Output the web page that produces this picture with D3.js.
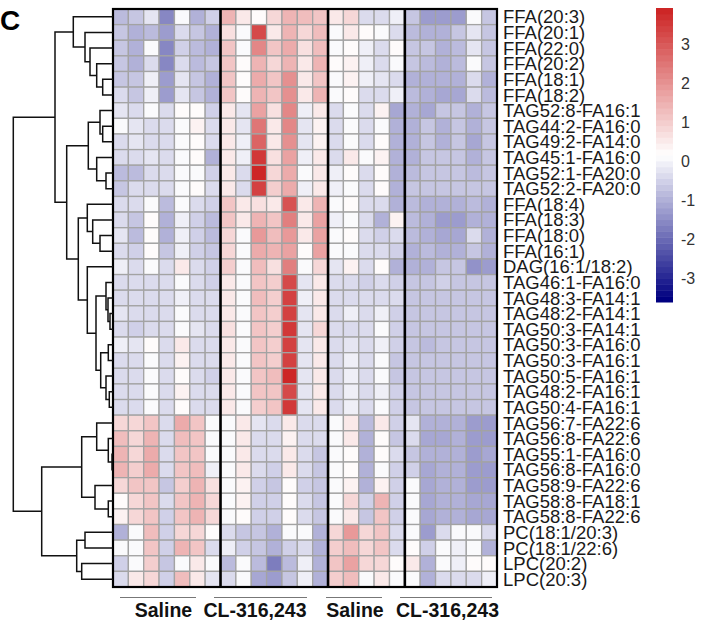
<!DOCTYPE html>
<html>
<head>
<meta charset="utf-8">
<script src="https://cdn.jsdelivr.net/npm/d3@7"></script>
<style>
  html, body { margin: 0; padding: 0; background: #fff; }
  svg { display: block; }
  text { font-family: "Liberation Sans", Arial, sans-serif; }
</style>
</head>
<body>
<svg id="chart" width="702" height="624"></svg>
<script>
// ---------------- data ----------------
const rowLabels = [
  "FFA(20:3)","FFA(20:1)","FFA(22:0)","FFA(20:2)","FFA(18:1)","FFA(18:2)",
  "TAG52:8-FA16:1","TAG44:2-FA16:0","TAG49:2-FA14:0","TAG45:1-FA16:0","TAG52:1-FA20:0","TAG52:2-FA20:0",
  "FFA(18:4)","FFA(18:3)","FFA(18:0)","FFA(16:1)","DAG(16:1/18:2)",
  "TAG46:1-FA16:0","TAG48:3-FA14:1","TAG48:2-FA14:1","TAG50:3-FA14:1","TAG50:3-FA16:0","TAG50:3-FA16:1",
  "TAG50:5-FA16:1","TAG48:2-FA16:1","TAG50:4-FA16:1",
  "TAG56:7-FA22:6","TAG56:8-FA22:6","TAG55:1-FA16:0","TAG56:8-FA16:0","TAG58:9-FA22:6","TAG58:8-FA18:1","TAG58:8-FA22:6",
  "PC(18:1/20:3)","PC(18:1/22:6)","LPC(20:2)","LPC(20:3)"
];
const groupNames = ["Saline", "CL-316,243", "Saline", "CL-316,243"];
const groupSizes = [7, 7, 5, 6];

// z-scored values, one row per lipid, 25 samples (7 + 7 + 5 + 6)
const cellValues = [
  [-0.8,-0.7,-0.2,-1.5,0.1,-0.9,-0.5, 1.5,0.6,0.3,0.8,1.5,1.3,1.2, 0.6,0.9,-0.4,-0.4,-0.1, -0.7,-1.3,-1.2,-1.2,0.1,-0.7],
  [-0.7,-0.9,-0.8,-1.3,-0.4,-0.7,-0.9, 0.7,0.1,3.3,0.6,1.5,0.9,1.3, 0.1,0.5,0.3,0.1,-0.3, -0.8,-0.9,-1.0,-0.7,-0.2,-0.7],
  [-0.6,-1.0,0.1,-1.6,-0.5,-0.8,-1.0, 1.2,0.1,2.2,1.1,1.6,0.7,1.3, 0.1,0.2,-0.1,-0.3,0.2, -0.7,-0.6,-0.9,-0.8,-0.2,-0.6],
  [-0.7,-1.0,-0.4,-1.6,-0.4,-0.8,-0.7, 1.1,0.3,1.5,0.9,1.5,0.5,1.4, 0.2,0.4,-0.1,-0.3,0.1, -0.7,-0.8,-1.0,-0.8,0.1,-0.6],
  [-0.6,-0.7,-0.1,-1.3,-0.2,-0.7,-0.9, 1.2,0.2,1.6,1.2,2.0,0.6,1.2, 0.1,0.4,-0.1,-0.2,-0.3, -0.9,-0.9,-1.0,-1.0,-0.4,-0.9],
  [-0.4,-0.7,-0.1,-1.3,-0.2,-0.7,-0.9, 1.2,0.3,1.5,1.1,2.0,0.5,1.4, 0.1,0.3,-0.3,-0.4,-0.1, -0.8,-0.9,-1.1,-1.1,-0.4,-0.8],
  [-0.2,-0.3,0.1,-0.4,0.2,0.3,-0.5, 0.6,-0.2,1.8,0.7,2.2,-0.1,0.5, -0.4,0.1,-0.3,0.4,-1.1, -1.0,-1.1,-0.6,-0.6,-1.0,-0.7],
  [0.1,-0.2,-0.4,-0.4,0.1,0.4,-0.3, 0.6,-0.2,2.5,0.6,2.2,-0.2,0.4, -0.3,0.1,-0.3,0.1,-1.0, -1.0,-0.7,-0.9,-0.6,-1.0,-0.7],
  [-0.4,-0.2,-0.4,-0.4,0.1,0.3,-0.4, 0.6,-0.1,2.8,0.6,2.1,-0.2,0.4, -0.3,0.1,-0.3,0.2,-1.0, -1.0,-0.7,-0.9,-0.7,-1.1,-0.7],
  [-0.3,-0.3,-0.2,-0.3,0.1,0.3,-0.9, 0.6,-0.1,3.5,0.7,1.7,-0.1,0.5, -0.3,0.5,0.1,0.4,-0.9, -1.0,-0.6,-0.6,-0.6,-0.9,-0.7],
  [-0.8,-0.8,-0.4,-0.4,0.1,0.1,-0.5, 0.5,-0.4,3.9,0.9,1.6,0.1,0.6, -0.1,0.2,-0.3,0.2,-0.9, -0.8,-0.7,-0.7,-0.6,-0.8,-0.7],
  [-0.7,-0.4,-0.3,-0.4,0.1,0.2,-0.4, 0.5,-0.3,3.4,1.0,1.6,-0.1,0.6, -0.1,0.1,-0.3,0.2,-0.9, -0.7,-0.7,-0.7,-0.6,-0.7,-0.7],
  [-0.3,-0.4,0.1,-0.8,0.1,-0.4,-0.5, 1.2,0.6,0.7,0.6,3.1,0.5,1.5, 0.1,0.3,-0.3,-0.4,-0.9, -0.8,-0.9,-0.9,-0.9,-0.8,-0.9],
  [-0.4,-0.7,0.2,-1.0,-0.1,-0.5,-0.8, 1.2,0.6,1.5,1.2,2.4,0.5,1.7, -0.1,0.1,-0.4,-0.9,0.4, -0.8,-1.0,-1.2,-1.2,-0.9,-1.0],
  [-0.2,-0.8,0.3,-0.9,-0.1,-0.5,-0.8, 0.8,0.1,1.9,1.3,1.9,0.5,1.8, 0.1,0.2,-0.3,-0.5,-0.4, -0.8,-0.9,-1.1,-1.1,-0.3,-0.9],
  [-0.4,-0.5,0.2,-0.7,-0.1,-0.5,-0.7, 0.9,0.1,1.6,1.5,1.7,0.2,1.8, 0.1,0.1,-0.3,-0.4,-0.5, -0.9,-0.8,-1.0,-0.9,-0.6,-0.9],
  [-0.1,-0.3,0.1,-0.4,0.5,-0.3,-0.5, 1.0,0.1,1.3,0.7,2.3,0.1,0.8, -0.2,0.4,-0.3,0.2,-1.0, -0.9,-1.0,-0.7,-0.7,-1.4,-1.3],
  [-0.3,-0.3,-0.3,-0.4,0.1,-0.4,-0.5, 0.6,0.1,1.2,1.0,3.3,-0.2,0.5, -0.3,-0.3,-0.5,-0.3,-0.5, -0.6,-0.6,-0.5,-0.6,-0.6,-0.6],
  [-0.3,-0.4,-0.3,-0.4,-0.1,-0.3,-0.4, 0.6,0.1,1.3,1.0,3.4,-0.1,0.5, -0.3,-0.3,-0.4,-0.3,-0.4, -0.6,-0.6,-0.6,-0.6,-0.6,-0.6],
  [-0.2,-0.4,-0.4,-0.4,0.1,-0.3,-0.4, 0.6,0.1,1.2,1.0,3.4,-0.2,0.6, -0.4,-0.1,-0.4,-0.1,-0.5, -0.6,-0.7,-0.6,-0.6,-0.6,-0.7],
  [-0.4,-0.5,-0.4,-0.4,0.1,-0.2,-0.4, 0.7,0.1,1.2,1.0,3.5,-0.2,0.9, -0.4,-0.3,-0.4,0.1,-0.5, -0.7,-0.7,-0.7,-0.7,-0.7,-0.7],
  [-0.1,-0.2,0.2,-0.3,0.5,-0.3,-0.4, 0.6,0.1,1.1,1.0,3.4,-0.2,0.5, -0.4,-0.2,-0.4,-0.1,-0.5, -0.7,-0.8,-0.7,-0.7,-0.7,-0.7],
  [-0.3,-0.3,0.1,-0.4,0.4,-0.3,-0.4, 0.6,0.1,1.2,1.0,3.4,-0.2,0.5, -0.4,-0.1,-0.4,0.1,-0.6, -0.7,-0.7,-0.7,-0.7,-0.7,-0.7],
  [-0.3,-0.3,0.1,-0.4,0.3,-0.3,-0.5, 0.6,0.1,1.1,1.3,3.9,-0.2,0.5, -0.4,-0.1,-0.4,0.1,-0.6, -0.7,-0.7,-0.7,-0.7,-0.7,-0.7],
  [-0.3,-0.3,0.1,-0.4,0.4,-0.3,-0.4, 0.6,0.1,1.1,1.2,3.3,-0.2,0.5, -0.4,-0.1,-0.4,-0.1,-0.5, -0.7,-0.7,-0.7,-0.7,-0.7,-0.7],
  [-0.3,-0.3,0.1,-0.4,0.3,-0.3,-0.4, 0.6,0.1,1.0,1.2,3.5,-0.2,0.5, -0.4,-0.1,-0.4,0.1,-0.5, -0.7,-0.7,-0.7,-0.7,-0.7,-0.7],
  [0.8,0.8,1.1,-0.3,1.6,1.2,0.1, 0.1,0.5,-0.2,-0.3,0.5,-0.3,-0.4, 0.1,0.5,-0.8,0.6,-0.5, -0.2,-1.0,-1.0,-0.9,-1.2,-1.2],
  [1.3,0.9,1.4,-0.4,1.3,1.2,0.1, 0.1,0.5,-0.4,-0.4,0.4,-0.3,-0.4, 0.1,0.5,-1.0,0.3,-0.6, -0.4,-1.1,-1.1,-1.0,-1.3,-1.3],
  [1.5,0.9,1.6,-0.4,1.2,1.2,0.1, 0.1,0.5,-0.4,-0.4,0.5,-0.4,-0.6, 0.1,0.3,-0.9,0.2,-0.4, -0.6,-1.0,-1.0,-1.0,-1.2,-1.1],
  [1.5,1.0,1.6,-0.4,1.2,1.3,-0.1, 0.1,0.5,-0.4,-0.5,0.5,-0.4,-0.6, 0.1,0.3,-1.0,0.1,-0.5, -0.5,-1.1,-1.0,-1.0,-1.2,-1.2],
  [0.9,1.1,1.2,-0.6,1.0,1.4,0.7, 0.1,0.4,-0.5,-0.6,0.2,-0.5,-0.7, 0.1,0.4,-0.9,0.4,-0.5, 0.1,-1.1,-1.0,-0.9,-1.2,-1.2],
  [0.3,0.9,1.2,-0.4,1.2,1.5,0.9, 0.1,0.4,-0.5,-0.5,0.3,-0.4,-0.6, 0.1,0.9,-0.5,1.5,-0.5, 0.1,-1.1,-0.9,-0.9,-1.1,-1.1],
  [0.4,0.8,1.1,-0.5,1.1,1.5,0.9, 0.1,0.3,-0.5,-0.5,0.3,-0.4,-0.6, 0.1,0.6,-0.6,1.2,-0.5, 0.1,-1.1,-0.9,-0.9,-1.1,-1.1],
  [-1.0,0.1,1.3,-0.5,0.8,0.9,0.3, -0.3,-0.7,-0.6,-1.0,0.1,0.1,-0.9, 0.8,1.9,0.9,1.2,-0.4, 0.1,-1.2,-0.3,0.1,0.1,-0.3],
  [0.1,0.1,1.2,-0.5,1.4,1.1,-0.3, -0.1,-0.5,-0.6,-0.9,-0.5,-0.3,-0.9, 1.0,1.3,0.8,1.1,-0.4, 0.2,-0.5,0.1,-0.1,0.1,-0.9],
  [-0.5,0.1,1.0,-0.6,0.1,0.5,0.1, -0.8,0.1,-0.8,-1.7,-0.8,-0.1,-0.9, 1.2,1.8,0.8,0.9,0.2, 0.6,-1.0,0.1,-0.1,0.2,0.2],
  [-0.4,0.5,0.9,-0.5,1.3,0.6,-0.2, -0.4,0.1,-1.1,-1.3,-0.6,-0.1,-0.9, 1.0,1.3,0.1,0.6,0.1, 0.1,-1.0,-0.3,-0.4,-0.3,-0.1]
];

// row dendrogram: merges (negative = leaf row index, positive = earlier merge number, 1-based) and heights
const rowMerge = [
  [-5,-6],[-4,1],[-3,2],[-2,3],[-1,4],
  [-8,-9],[-7,6],[-11,-12],[-10,8],[7,9],
  [-15,-16],[-14,11],[-13,12],
  [-20,-21],[-19,14],[-18,15],[-22,-23],[-25,-26],[-24,18],[17,19],[16,20],[-17,21],
  [13,22],[10,23],[5,24],
  [-29,-30],[-28,26],[-27,27],[-32,-33],[-31,29],[28,30],
  [-34,-35],[-36,-37],[32,33],
  [31,34],[25,35]
];
const rowMergeHeight = [
  10.3,16.3,23,28,39.7,
  10.3,13,7,16.3,24.7,
  13,20.3,25.7,
  3,5,7,4.7,3.7,7,12.3,17,25.7,
  34.7,46.3,58,
  1,4.7,16.3,4.7,18,31.3,
  28,31.3,36.3,
  71.3,99.7
];

// colour legend
const legendRange = [-3.6, 3.92];
const legendTicks = [3, 2, 1, 0, -1, -2, -3];
const paletteStops = ["#000080", "#ffffff", "#CD2626"];
const nColors = 50;

// ---------------- drawing ----------------
const svg = d3.select("#chart");
const hm = { left: 113, right: 497, top: 9, bottom: 587 };
const nCols = d3.sum(groupSizes);

const x = d3.scaleBand().domain(d3.range(nCols)).range([hm.left, hm.right]);
const y = d3.scaleBand().domain(rowLabels).range([hm.top, hm.bottom]);

const interp = d3.piecewise(d3.interpolateRgb, paletteStops);
const palette = d3.range(nColors).map(i => interp(i / (nColors - 1)));
const binScale = d3.scaleQuantize().domain(legendRange).range(palette);
const color = v => binScale(Math.max(legendRange[0], Math.min(legendRange[1] - 1e-9, v)));

// cells
const cells = [];
cellValues.forEach((row, r) => row.forEach((v, c) => cells.push({ r, c, v })));
svg.append("g").selectAll("rect").data(cells).join("rect")
  .attr("x", d => x(d.c))
  .attr("y", d => y(rowLabels[d.r]))
  .attr("width", x.bandwidth())
  .attr("height", y.bandwidth())
  .attr("fill", d => color(d.v))
  .attr("stroke", "#a3a3a3")
  .attr("stroke-width", 1.3);

// group separators + border
const bounds = d3.cumsum(groupSizes).slice(0, -1);
svg.append("g").selectAll("line").data(bounds).join("line")
  .attr("x1", d => x(d)).attr("x2", d => x(d))
  .attr("y1", hm.top).attr("y2", hm.bottom)
  .attr("stroke", "#000").attr("stroke-width", 2.6);
svg.append("rect")
  .attr("x", hm.left).attr("y", hm.top)
  .attr("width", hm.right - hm.left).attr("height", hm.bottom - hm.top)
  .attr("fill", "none").attr("stroke", "#000").attr("stroke-width", 2.2);

// row labels
svg.append("g").selectAll("text").data(rowLabels).join("text")
  .attr("x", hm.right + 6)
  .attr("y", d => y(d) + y.bandwidth() / 2 + 6.6)
  .attr("font-size", 18.5)
  .attr("fill", "#1a1a1a")
  .text(d => d);

// dendrogram
const hScale = d3.scaleLinear().domain([0, d3.max(rowMergeHeight)]).range([hm.left, 13.3]);
const nodes = [];
function nodePos(id) {
  if (id < 0) {
    const r = -id - 1;
    return { x: hm.left, y: y(rowLabels[r]) + y.bandwidth() / 2 };
  }
  return nodes[id - 1];
}
const dendroPaths = [];
rowMerge.forEach((m, i) => {
  const a = nodePos(m[0]), b = nodePos(m[1]);
  const hx = hScale(rowMergeHeight[i]);
  nodes.push({ x: hx, y: (a.y + b.y) / 2 });
  dendroPaths.push(`M${a.x},${a.y}H${hx}V${b.y}H${b.x}`);
});
svg.append("g").selectAll("path").data(dendroPaths).join("path")
  .attr("d", d => d)
  .attr("fill", "none").attr("stroke", "#111").attr("stroke-width", 1.5);

// legend
const lg = { x: 656, w: 17, top: 8, bottom: 302 };
const ly = d3.scaleLinear().domain(legendRange).range([lg.bottom, lg.top]);
const step = (legendRange[1] - legendRange[0]) / nColors;
svg.append("g").selectAll("rect").data(palette).join("rect")
  .attr("x", lg.x).attr("width", lg.w)
  .attr("y", (d, i) => ly(legendRange[0] + (i + 1) * step))
  .attr("height", (d, i) => ly(legendRange[0] + i * step) - ly(legendRange[0] + (i + 1) * step) + 0.5)
  .attr("fill", d => d);
svg.append("g").selectAll("text").data(legendTicks).join("text")
  .attr("x", 681)
  .attr("y", d => ly(d) + 5.8)
  .attr("font-size", 16)
  .attr("fill", "#333")
  .text(d => d);

// column group annotations
const groupCenters = [163.5, 255, 355, 447.5];
const groupLines = [[120, 196], [214, 307], [326, 382], [400, 492]];
svg.append("g").selectAll("line").data(groupLines).join("line")
  .attr("x1", d => d[0]).attr("x2", d => d[1])
  .attr("y1", 597.5).attr("y2", 597.5)
  .attr("stroke", "#777").attr("stroke-width", 1.2);
svg.append("g").selectAll("text").data(groupNames).join("text")
  .attr("x", (d, i) => groupCenters[i])
  .attr("y", 617)
  .attr("text-anchor", "middle")
  .attr("font-size", 19.5)
  .attr("font-weight", "bold")
  .attr("fill", "#111")
  .text(d => d);

// panel letter
svg.append("text").attr("x", 0).attr("y", 30)
  .attr("font-size", 28).attr("font-weight", "bold").attr("fill", "#000")
  .text("C");
</script>
</body>
</html>
